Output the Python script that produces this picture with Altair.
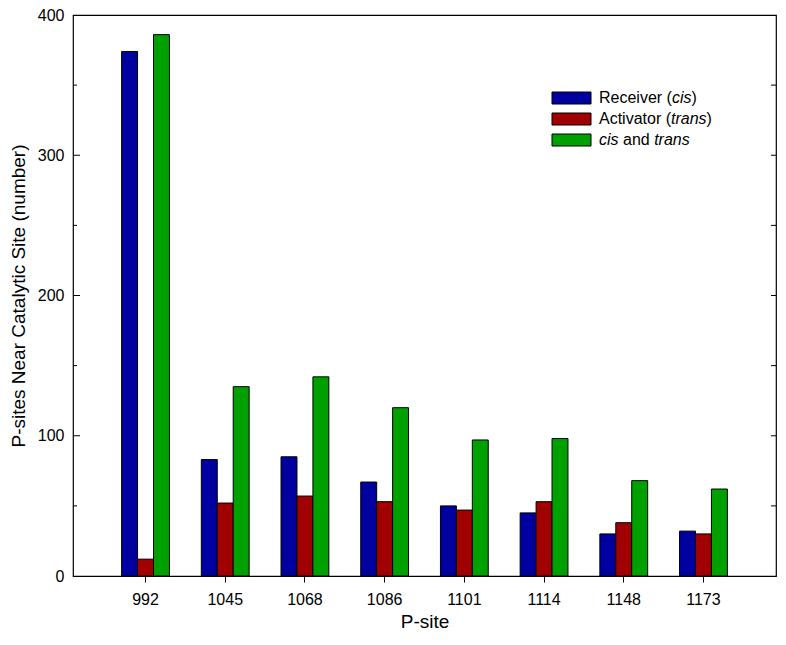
import altair as alt
import pandas as pd

# ---- data ----
sites = ["992", "1045", "1068", "1086", "1101", "1114", "1148", "1173"]
receiver_cis = [374, 83, 85, 67, 50, 45, 30, 32]
activator_trans = [12, 52, 57, 53, 47, 53, 38, 30]
cis_and_trans = [386, 135, 142, 120, 97, 98, 68, 62]
series_names = ["Receiver (cis)", "Activator (trans)", "cis and trans"]
series_colors = ["#0000A0", "#A00000", "#00A000"]
y_labels = [0, 100, 200, 300, 400]
minor_ticks = [50, 150, 250, 350]

W, H = 703, 561
FONT = "Liberation Sans"

rows = []
for s, a, b, c in zip(sites, receiver_cis, activator_trans, cis_and_trans):
    rows.append({"site": s, "series": series_names[0], "value": a})
    rows.append({"site": s, "series": series_names[1], "value": b})
    rows.append({"site": s, "series": series_names[2], "value": c})
df = pd.DataFrame(rows)

yscale = alt.Scale(domain=[0, 400], nice=False, zero=True)
yaxis = alt.Axis(title="P-sites Near Catalytic Site (number)", values=y_labels,
                 ticks=False, domain=False, grid=False, labelFontSize=16,
                 labelFont=FONT, labelColor="black", labelPadding=9,
                 titleFont=FONT, titleFontSize=19, titleFontWeight="normal",
                 titleColor="black", titlePadding=9)

bars = alt.Chart(df).mark_bar(stroke="black", strokeWidth=1).encode(
    x=alt.X("site:N", sort=sites,
            scale=alt.Scale(paddingInner=0.4, paddingOuter=0.61),
            axis=alt.Axis(title="P-site", labelAngle=0, domain=False,
                          tickSize=6, tickColor="black", labelFontSize=16,
                          labelFont=FONT, labelColor="black", labelPadding=9,
                          titleFont=FONT, titleFontSize=19, titleFontWeight="normal",
                          titleColor="black", titlePadding=5)),
    xOffset=alt.XOffset("series:N", sort=series_names,
                        scale=alt.Scale(paddingInner=0, paddingOuter=0)),
    y=alt.Y("value:Q", scale=yscale, axis=yaxis),
    color=alt.Color("series:N", sort=series_names,
                    scale=alt.Scale(domain=series_names, range=series_colors),
                    legend=None),
)

# inside ticks on left (major + minor) and right
major_df = pd.DataFrame({"value": y_labels[1:-1]})
minor_df = pd.DataFrame({"value": minor_ticks})
right_df = pd.DataFrame({"value": sorted(minor_ticks + y_labels[1:-1])})

left_major = alt.Chart(major_df).mark_rule(color="black", strokeWidth=1).encode(
    y=alt.Y("value:Q", scale=yscale, axis=yaxis), x=alt.value(0), x2=alt.value(7))
left_minor = alt.Chart(minor_df).mark_rule(color="black", strokeWidth=1).encode(
    y=alt.Y("value:Q", scale=yscale, axis=yaxis), x=alt.value(0), x2=alt.value(4))
right_ticks = alt.Chart(right_df).mark_rule(color="black", strokeWidth=1).encode(
    y=alt.Y("value:Q", scale=yscale, axis=yaxis), x=alt.value(W - 5), x2=alt.value(W))

# ---- custom legend with italic parts ----
CW = {"R": .722, "e": .556, "c": .5, "i": .222, "v": .5, "r": .333, " ": .278,
      "(": .333, ")": .333, "A": .667, "t": .278, "o": .556, "a": .556, "n": .556,
      "s": .5, "d": .556}
FS = 16


def tw(s):
    return sum(CW.get(ch, .556) for ch in s) * FS


legend_parts = [
    [("Receiver (", False), ("cis", True), (")", False)],
    [("Activator (", False), ("trans", True), (")", False)],
    [("cis", True), (" and ", False), ("trans", True)],
]
sw_x0, sw_x1, txt_x0 = 479, 518, 526
row_y0, row_dy, sw_h = 83, 21, 12

one = pd.DataFrame({"k": [0]})
legend_layers = []
for i, (name, color, parts) in enumerate(zip(series_names, series_colors, legend_parts)):
    cy = row_y0 + i * row_dy
    legend_layers.append(
        alt.Chart(one).mark_rect(stroke="black", strokeWidth=1, fill=color).encode(
            x=alt.value(sw_x0), x2=alt.value(sw_x1),
            y=alt.value(cy - sw_h / 2), y2=alt.value(cy + sw_h / 2)))
    x = txt_x0
    for txt, ital in parts:
        lead = tw(txt) - tw(txt.lstrip())
        kw = {"fontStyle": "italic"} if ital else {}
        legend_layers.append(
            alt.Chart(one).mark_text(align="left", baseline="middle", font=FONT,
                                     fontSize=FS, color="black", **kw).encode(
                x=alt.value(x + lead), y=alt.value(cy), text=alt.value(txt.strip())))
        x += tw(txt)

chart = alt.layer(bars, left_major, left_minor, right_ticks, *legend_layers).properties(
    width=W, height=H,
    autosize=alt.AutoSizeParams(type="none"),
    padding={"left": 65, "top": 7, "right": 2, "bottom": 59},
    background="white",
).configure_view(stroke="black", strokeWidth=1.2)

chart.save("out.html", embed_options={"renderer": "svg", "actions": False})
